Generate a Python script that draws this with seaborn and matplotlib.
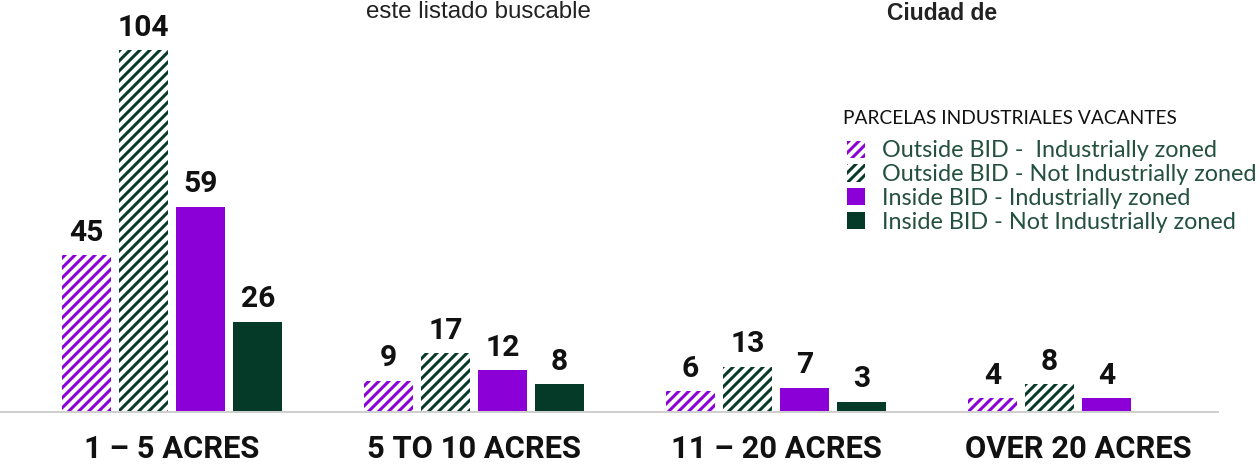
import pandas as pd
import matplotlib
matplotlib.use('Agg')
import matplotlib.pyplot as plt
from matplotlib.patches import Patch
import seaborn as sns

# --- Data ---
groups = ['1 – 5 ACRES', '5 TO 10 ACRES', '11 – 20 ACRES', 'OVER 20 ACRES']
series = ['Outside BID -  Industrially zoned', 'Outside BID - Not Industrially zoned',
          'Inside BID - Industrially zoned', 'Inside BID - Not Industrially zoned']
outside_ind = [45, 9, 6, 4]
outside_not = [104, 17, 13, 8]
inside_ind = [59, 12, 7, 4]
inside_not = [26, 8, 3, None]

rows = []
for s, vals in zip(series, [outside_ind, outside_not, inside_ind, inside_not]):
    for g, v in zip(groups, vals):
        if v is not None:
            rows.append({'group': g, 'series': s, 'value': v})
df = pd.DataFrame(rows)

PURPLE = '#8A00D6'
GREEN = '#063A28'
colors = [PURPLE, GREEN, PURPLE, GREEN]
hatched = [True, True, False, False]

# --- Plot ---
sns.set_style('white')
plt.rcParams['hatch.linewidth'] = 1.8
num_font = ['Roboto', 'DejaVu Sans']

fig = plt.figure(figsize=(10.5, 3.875), dpi=120)
ax = fig.add_axes([0, 53 / 465, 1218 / 1260, 412 / 465])

sns.barplot(data=df, x='group', y='value', hue='series', order=groups, hue_order=series,
            palette=colors, width=0.756, gap=0.14, ax=ax, legend=False, saturation=1)

for cont, col, h in zip(ax.containers, colors, hatched):
    for p in cont.patches:
        if h:
            p.set_facecolor('white')
            p.set_edgecolor(col)
            p.set_hatch('////')
            p.set_linewidth(0)
        else:
            p.set_facecolor(col)
            p.set_edgecolor(col)
            p.set_linewidth(0)
    ax.bar_label(cont, fmt='%d', padding=5, fontsize=18, fontweight='bold',
                 family=num_font, color='#111111')

ax.set_xlim(-0.57, 3.464)
ax.set_ylim(0, 118.4)
ax.set_xlabel('')
ax.set_ylabel('')
ax.set_yticks([])
for side in ['top', 'right', 'left']:
    ax.spines[side].set_visible(False)
ax.spines['bottom'].set_color('#cfcfcf')
ax.spines['bottom'].set_linewidth(1.2)
ax.tick_params(axis='x', length=0, pad=13)
for lbl in ax.get_xticklabels():
    lbl.set_fontsize(18.5)
    lbl.set_fontweight('bold')
    lbl.set_family(num_font)
    lbl.set_color('#111111')

# legend (title drawn separately for its own spacing)
fig.text(843 / 1260, 1 - 118 / 465, 'PARCELAS INDUSTRIALES VACANTES', ha='left', va='center',
         fontsize=11.5, family='Lato', color='#111111')
handles = []
for col, h in zip(colors, hatched):
    if h:
        handles.append(Patch(facecolor='white', edgecolor=col, hatch='////', linewidth=0))
    else:
        handles.append(Patch(facecolor=col, edgecolor=col, linewidth=0))
leg = ax.legend(handles, series, loc='upper left',
                bbox_to_anchor=(838 / 1260, 1 - 131 / 465), bbox_transform=fig.transFigure,
                frameon=False, handlelength=0.75, handleheight=0.75,
                handletextpad=0.75, labelspacing=0.12, borderaxespad=0,
                prop={'family': 'Lato', 'size': 14})
for t in leg.get_texts():
    t.set_color('#24503F')

# overlay texts at the top
fig.text(366 / 1260, 1 - 12 / 465, 'este listado buscable', ha='left', va='center',
         fontsize=14.5, family='Liberation Sans', color='#222222')
fig.text(887 / 1260, 1 - 14 / 465, 'Ciudad de', ha='left', va='center',
         fontsize=13.7, fontweight='bold', family='Liberation Sans', color='#222222')

fig.savefig('out.png', dpi=120)
